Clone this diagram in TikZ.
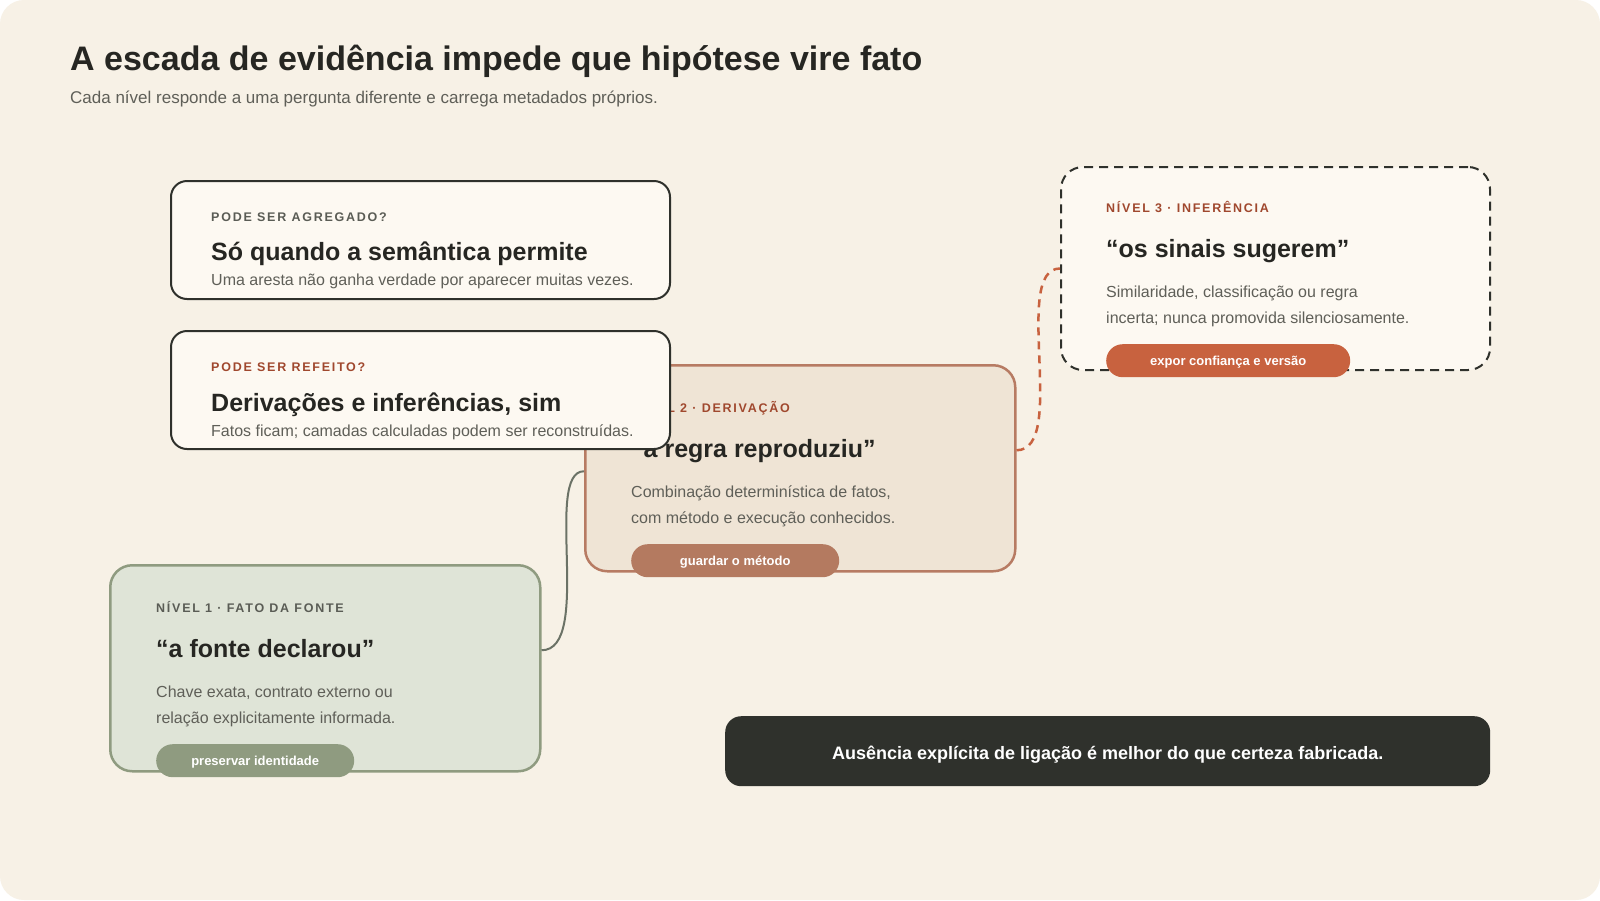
\documentclass[tikz,border=0pt]{standalone}
\usepackage{fontspec}
\setmainfont{Liberation Sans}
\newfontfamily\lblfont{Liberation Sans}[LetterSpace=14]
\usepackage{xcolor}
\usetikzlibrary{positioning,calc}

\definecolor{paper}{HTML}{F7F1E6}
\definecolor{card}{HTML}{FDF9F2}
\definecolor{ink}{HTML}{262622}
\definecolor{inkline}{HTML}{2F312C}
\definecolor{muted}{HTML}{5F5F58}
\definecolor{labelgrey}{HTML}{5A5C55}
\definecolor{rust}{HTML}{A0482E}
\definecolor{clay}{HTML}{C8623F}
\definecolor{derivfill}{HTML}{EFE4D5}
\definecolor{derivline}{HTML}{B77B63}
\definecolor{derivbtn}{HTML}{B47A60}
\definecolor{sagefill}{HTML}{DFE4D7}
\definecolor{sage}{HTML}{8F9B80}
\definecolor{linkgrey}{HTML}{6B7266}

\begin{document}
\begin{tikzpicture}[
    x=1pt, y=-1pt,
    question/.style={rectangle, draw=inkline, fill=card, line width=2pt, rounded corners=16pt, minimum width=499pt, minimum height=118pt, anchor=north west, inner sep=0pt},
    level/.style={rectangle, line width=2.5pt, rounded corners=22pt, minimum width=430pt, minimum height=206pt, anchor=north west, inner sep=0pt},
    pill/.style={rectangle, rounded corners=16.5pt, minimum height=33pt, anchor=north west, inner sep=0pt, text=white, text height=10pt, text depth=0pt, font=\fontsize{13}{15}\selectfont\bfseries},
    kicker/.style={anchor=base west, inner sep=0pt, font=\lblfont\fontsize{12.5}{15}\selectfont\bfseries},
    headline/.style={anchor=base west, inner sep=0pt, text=ink, font=\fontsize{25}{30}\selectfont\bfseries},
    body/.style={anchor=base west, inner sep=0pt, text=muted, align=left, font=\fontsize{16}{26}\selectfont},
    link/.style={line width=2pt, draw=linkgrey}
]
    % Canvas
    \useasboundingbox (0,0) rectangle (1600,900);
    \fill[white] (0,0) rectangle (1600,900);
    \fill[paper, rounded corners=24pt] (0,0) rectangle (1600,900);

    % Heading
    \node[anchor=base west, inner sep=0pt, text=ink, font=\fontsize{34}{40}\selectfont\bfseries] (title) at (70,70) {A escada de evidência impede que hipótese vire fato};
    \node[anchor=base west, inner sep=0pt, text=muted, font=\fontsize{17}{20}\selectfont] (subtitle) at (70,103) {Cada nível responde a uma pergunta diferente e carrega metadados próprios.};

    % Level 1
    \node[level, draw=sage, fill=sagefill] (fact) at (109,564) {};
    \node[kicker, text=labelgrey] (factlbl) at (156,612) {NÍVEL 1 · FATO DA FONTE};
    \node[headline] (facthead) at (156,657) {“a fonte declarou”};
    \node[body] (facttxt) at (156,723) {Chave exata, contrato externo ou\\relação explicitamente informada.};
    \node[pill, fill=sage, minimum width=198pt] (factbtn) at (156,744) {preservar identidade};

    % Level 2
    \node[level, draw=derivline, fill=derivfill] (deriv) at (584,364) {};
    \node[kicker, text=rust] (derivlbl) at (631,412) {NÍVEL 2 · DERIVAÇÃO};
    \node[headline] (derivhead) at (631,457) {“a regra reproduziu”};
    \node[body] (derivtxt) at (631,523) {Combinação determinística de fatos,\\com método e execução conhecidos.};
    \node[pill, fill=derivbtn, minimum width=208pt] (derivbtn) at (631,544) {guardar o método};

    % Level 3
    \node[level, draw=inkline, fill=card, line width=2pt, dash pattern=on 9pt off 6pt, minimum width=429pt, minimum height=203pt] (infer) at (1060,166) {};
    \node[kicker, text=rust] (inferlbl) at (1106,212) {NÍVEL 3 · INFERÊNCIA};
    \node[headline] (inferhead) at (1106,257) {“os sinais sugerem”};
    \node[body] (infertxt) at (1106,323) {Similaridade, classificação ou regra\\incerta; nunca promovida silenciosamente.};
    \node[pill, fill=clay, minimum width=244pt] (inferbtn) at (1106,344) {expor confiança e versão};

    % Links between levels
    \draw[link] ([yshift=18pt]fact.east) .. controls +(52,0) and +(-41,0) .. ([yshift=-3pt]deriv.west);
    \draw[link, draw=clay, line width=2.5pt, dash pattern=on 8pt off 6pt] ([yshift=18pt]deriv.east) .. controls +(52,0) and +(-49,0) .. (infer.west);

    % Questions
    \node[question] (aggr) at (170,180) {};
    \node[kicker, text=labelgrey] (aggrlbl) at (211,221) {PODE SER AGREGADO?};
    \node[headline] (aggrhead) at (211,260) {Só quando a semântica permite};
    \node[body] (aggrtxt) at (211,285) {Uma aresta não ganha verdade por aparecer muitas vezes.};

    \node[question] (redo) at (170,330) {};
    \node[kicker, text=rust] (redolbl) at (211,371) {PODE SER REFEITO?};
    \node[headline] (redohead) at (211,411) {Derivações e inferências, sim};
    \node[body] (redotxt) at (211,436) {Fatos ficam; camadas calculadas podem ser reconstruídas.};

    % Motto
    \node[rectangle, fill=inkline, rounded corners=16pt, minimum width=765pt, minimum height=70pt, anchor=north west, inner sep=0pt, text=white, text height=16pt, text depth=0pt, font=\fontsize{18}{22}\selectfont\bfseries] (motto) at (725,716) {Ausência explícita de ligação é melhor do que certeza fabricada.};
\end{tikzpicture}
\end{document}
